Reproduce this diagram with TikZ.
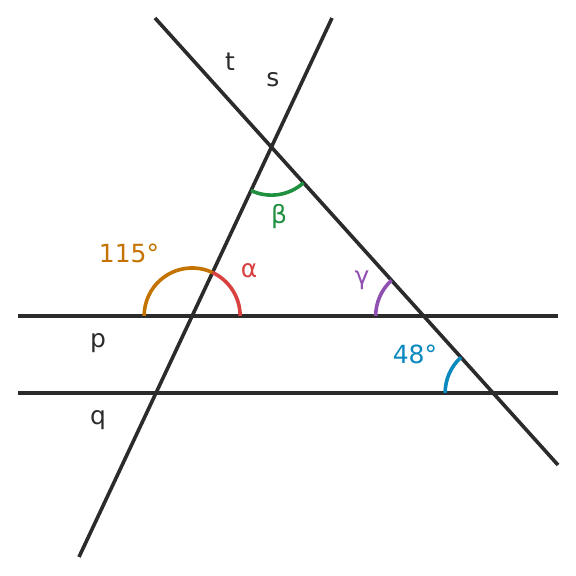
\documentclass[tikz,border=0pt]{standalone}
\usepackage{fontspec}
\setmainfont{DejaVu Sans}
\usetikzlibrary{positioning}

\definecolor{linegray}{HTML}{2B2B2B}
\definecolor{angorange}{HTML}{C47200}
\definecolor{angred}{HTML}{D94040}
\definecolor{anggreen}{HTML}{1E9040}
\definecolor{angpurple}{HTML}{9050B0}
\definecolor{angblue}{HTML}{0A88C0}

\begin{document}
\begin{tikzpicture}[
		x=1pt, y=1pt,
		line/.style={draw=linegray, line width=3.6pt},
		angarc/.style={line width=3.6pt},
		lab/.style={font=\fontsize{25}{30}\selectfont, inner sep=0pt},
		]
		\useasboundingbox (0,0) rectangle (576,576);
		
		% end points of the lines
		\coordinate (p1) at (18,260);
		\coordinate (p2) at (558,260);
		\coordinate (q1) at (18,183);
		\coordinate (q2) at (558,183);
		\coordinate (t1) at (155,558);
		\coordinate (t2) at (558,111);
		\coordinate (s1) at (332,558);
		\coordinate (s2) at (79,19);
		
		% crossing points
		\coordinate (sp) at (intersection of s1--s2 and p1--p2);
		\coordinate (st) at (intersection of s1--s2 and t1--t2);
		\coordinate (tp) at (intersection of t1--t2 and p1--p2);
		\coordinate (tq) at (intersection of t1--t2 and q1--q2);
		
		% lines
		\draw[line] (p1) -- (p2);
		\draw[line] (q1) -- (q2);
		\draw[line] (t1) -- (t2);
		\draw[line] (s1) -- (s2);
		
		% angles
		\draw[angarc, angorange] (sp) ++(64.86:48) arc[start angle=64.86, end angle=180, radius=48];
		\draw[angarc, angred] (sp) ++(0:48) arc[start angle=0, end angle=64.86, radius=48];
		\draw[angarc, anggreen] (st) ++(244.86:48) arc[start angle=244.86, end angle=312.03, radius=48];
		\draw[angarc, angpurple] (tp) ++(132.03:48) arc[start angle=132.03, end angle=180, radius=48];
		\draw[angarc, angblue] (tq) ++(132.03:48) arc[start angle=132.03, end angle=180, radius=48];
		
		% labels
		\node[lab, text=linegray] (tlab) at (230,514) {t};
		\node[lab, text=linegray] (slab) at (273,496) {s};
		\node[lab, text=linegray] (plab) at (98,233) {p};
		\node[lab, text=linegray] (qlab) at (98,156) {q};
		\node[lab, text=angorange] (olab) at (129,323) {115°};
		\node[lab, text=angred] (alab) at (249,305) {α};
		\node[lab, text=anggreen] (blab) at (279,359) {β};
		\node[lab, text=angpurple] (glab) at (362,296) {γ};
		\node[lab, text=angblue] (dlab) at (415,222) {48°};
		
	\end{tikzpicture}
\end{document}
